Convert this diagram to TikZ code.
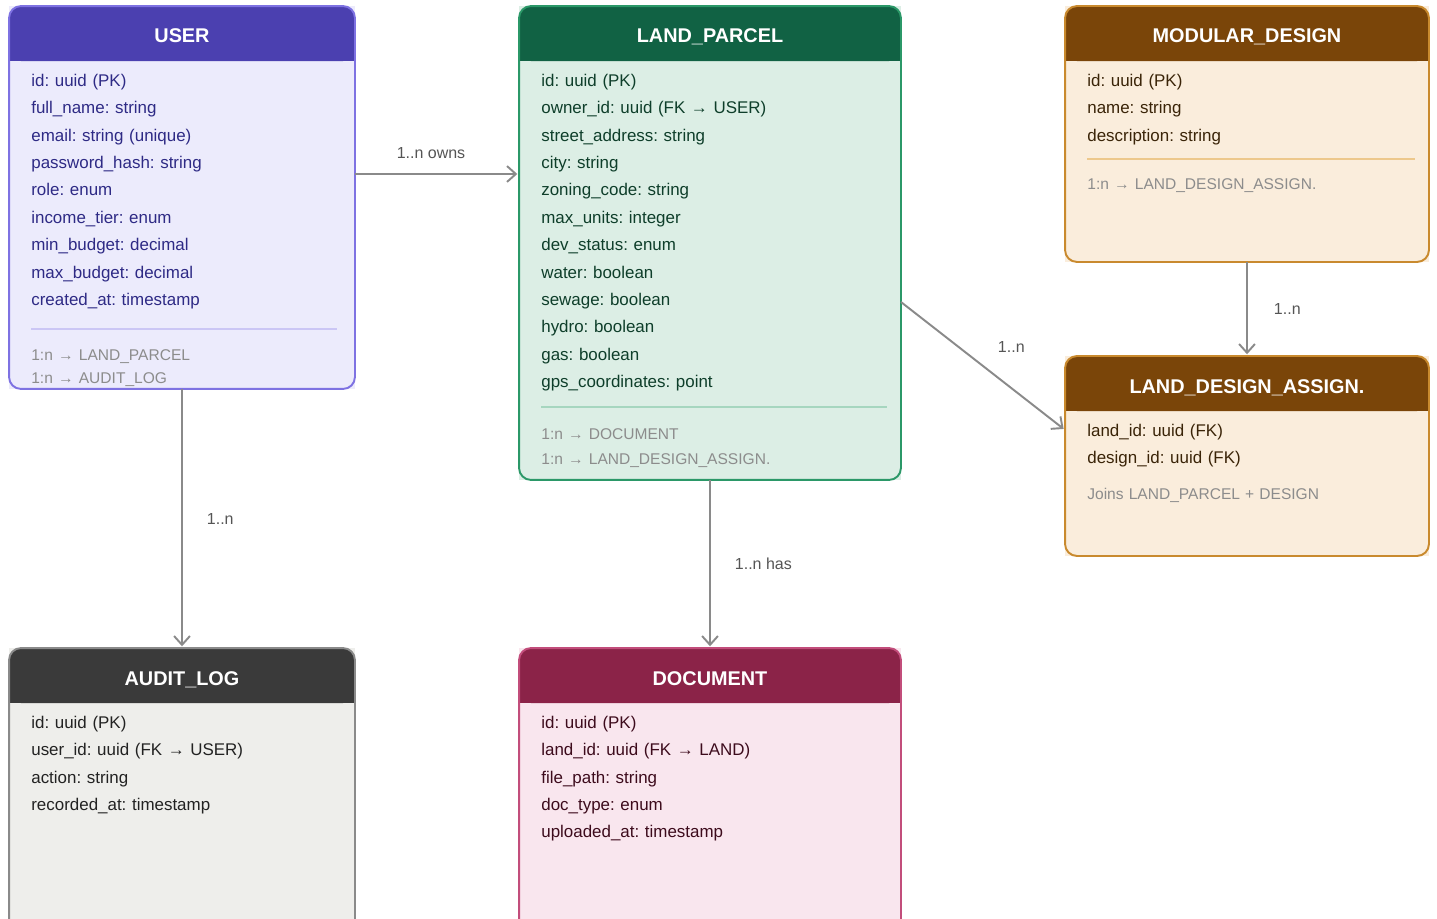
\documentclass[tikz,border=0pt]{standalone}
\usepackage{fontspec}
\setmainfont{Liberation Sans}
\usepackage{xcolor}
\usetikzlibrary{positioning, arrows.meta}
\frenchspacing

\definecolor{userhd}{HTML}{4B40B0}
\definecolor{userbg}{HTML}{ECEBFC}
\definecolor{userbd}{HTML}{7E72E2}
\definecolor{usertx}{HTML}{2E2A85}
\definecolor{usersep}{HTML}{CBC6F5}
\definecolor{landhd}{HTML}{116244}
\definecolor{landbg}{HTML}{DCEEE5}
\definecolor{landbd}{HTML}{2B9868}
\definecolor{landtx}{HTML}{0E3E2A}
\definecolor{landsep}{HTML}{A6D6BF}
\definecolor{modhd}{HTML}{7A4509}
\definecolor{modbg}{HTML}{FAEDDC}
\definecolor{modbd}{HTML}{C98A2E}
\definecolor{modtx}{HTML}{3A2408}
\definecolor{modsep}{HTML}{EDC88C}
\definecolor{audhd}{HTML}{3A3A3A}
\definecolor{audbg}{HTML}{EEEEEB}
\definecolor{audbd}{HTML}{8A8A8A}
\definecolor{audtx}{HTML}{222222}
\definecolor{dochd}{HTML}{8B2348}
\definecolor{docbg}{HTML}{F9E6EE}
\definecolor{docbd}{HTML}{C24D7B}
\definecolor{doctx}{HTML}{3D0B1C}
\definecolor{notegray}{HTML}{8C8C8C}
\definecolor{edgegray}{HTML}{8A8A8A}
\definecolor{lblgray}{HTML}{555555}

\begin{document}
\begin{tikzpicture}[
    x=0.02cm, y=-0.02cm,
    entity/.style={rectangle, inner sep=0pt, outer sep=0pt},
    frame/.style={line width=1.1pt, rounded corners=0.24cm},
    title/.style={text=white, inner sep=0pt, text height=0.28cm, text depth=0pt, font=\fontsize{11.3}{13}\selectfont\bfseries},
    field/.style={node distance=0.214cm, inner sep=0pt, text width=6.4cm, align=left, text height=0.25cm, text depth=0.07cm, font=\fontsize{9.64}{12}\selectfont},
    note/.style={inner sep=0pt, text width=6.4cm, align=left, text height=0.22cm, text depth=0.06cm, text=notegray, font=\fontsize{8.85}{11}\selectfont},
    rel/.style={draw=edgegray, line width=1.1pt, shorten >=1pt, -{Straight Barb[length=5pt, width=9pt]}},
    lbl/.style={text=lblgray, inner sep=0pt, font=\fontsize{9.1}{11}\selectfont}
    ]
\useasboundingbox (0,0) rectangle (1437,919);
\clip (0,0) rectangle (1437,919);
\fill[white] (0,0) rectangle (1437,919);

% USER
\node[entity, fill=userbg, minimum width=6.92cm, minimum height=7.66cm] (user) at (182,197.5) {};
\fill[userhd, rounded corners=0.24cm] (user.north west) rectangle ([yshift=-1.1cm]user.north east);
\fill[userhd] ([yshift=-0.6cm]user.north west) rectangle ([yshift=-1.1cm]user.north east);
\draw[userbd, frame] (user.north west) rectangle (user.south east);
\node[title] (user-t) at (182,36) {USER};
\node[field, text=usertx, anchor=north west] (user-f1) at (31,73.5) {id: uuid (PK)};
\node[field, text=usertx, below=of user-f1] (user-f2) {full\_name: string};
\node[field, text=usertx, below=of user-f2] (user-f3) {email: string (unique)};
\node[field, text=usertx, below=of user-f3] (user-f4) {password\_hash: string};
\node[field, text=usertx, below=of user-f4] (user-f5) {role: enum};
\node[field, text=usertx, below=of user-f5] (user-f6) {income\_tier: enum};
\node[field, text=usertx, below=of user-f6] (user-f7) {min\_budget: decimal};
\node[field, text=usertx, below=of user-f7] (user-f8) {max\_budget: decimal};
\node[field, text=usertx, below=of user-f8] (user-f9) {created\_at: timestamp};
\draw[usersep, line width=1pt] (31,329) -- (337,329);
\node[note, anchor=north west] (user-n1) at (31,349) {1:n → LAND\_PARCEL};
\node[note, below=0.16cm of user-n1] (user-n2) {1:n → AUDIT\_LOG};

% LAND_PARCEL
\node[entity, fill=landbg, minimum width=7.64cm, minimum height=9.48cm] (land) at (710,243) {};
\fill[landhd, rounded corners=0.24cm] (land.north west) rectangle ([yshift=-1.1cm]land.north east);
\fill[landhd] ([yshift=-0.6cm]land.north west) rectangle ([yshift=-1.1cm]land.north east);
\draw[landbd, frame] (land.north west) rectangle (land.south east);
\node[title] (land-t) at (710,36) {LAND\_PARCEL};
\node[field, text=landtx, anchor=north west] (land-f1) at (541,73.5) {id: uuid (PK)};
\node[field, text=landtx, below=of land-f1] (land-f2) {owner\_id: uuid (FK → USER)};
\node[field, text=landtx, below=of land-f2] (land-f3) {street\_address: string};
\node[field, text=landtx, below=of land-f3] (land-f4) {city: string};
\node[field, text=landtx, below=of land-f4] (land-f5) {zoning\_code: string};
\node[field, text=landtx, below=of land-f5] (land-f6) {max\_units: integer};
\node[field, text=landtx, below=of land-f6] (land-f7) {dev\_status: enum};
\node[field, text=landtx, below=of land-f7] (land-f8) {water: boolean};
\node[field, text=landtx, below=of land-f8] (land-f9) {sewage: boolean};
\node[field, text=landtx, below=of land-f9] (land-f10) {hydro: boolean};
\node[field, text=landtx, below=of land-f10] (land-f11) {gas: boolean};
\node[field, text=landtx, below=of land-f11] (land-f12) {gps\_coordinates: point};
\draw[landsep, line width=1pt] (541,407) -- (887,407);
\node[note, anchor=north west] (land-n1) at (541,428) {1:n → DOCUMENT};
\node[note, below=0.2cm of land-n1] (land-n2) {1:n → LAND\_DESIGN\_ASSIGN.};

% MODULAR_DESIGN
\node[entity, fill=modbg, minimum width=7.28cm, minimum height=5.12cm] (mod) at (1247,134) {};
\fill[modhd, rounded corners=0.24cm] (mod.north west) rectangle ([yshift=-1.1cm]mod.north east);
\fill[modhd] ([yshift=-0.6cm]mod.north west) rectangle ([yshift=-1.1cm]mod.north east);
\draw[modbd, frame] (mod.north west) rectangle (mod.south east);
\node[title] (mod-t) at (1247,36) {MODULAR\_DESIGN};
\node[field, text=modtx, anchor=north west] (mod-f1) at (1087,73.5) {id: uuid (PK)};
\node[field, text=modtx, below=of mod-f1] (mod-f2) {name: string};
\node[field, text=modtx, below=of mod-f2] (mod-f3) {description: string};
\draw[modsep, line width=1pt] (1087,159) -- (1415,159);
\node[note, anchor=north west] (mod-n1) at (1087,178) {1:n → LAND\_DESIGN\_ASSIGN.};

% LAND_DESIGN_ASSIGN.
\node[entity, fill=modbg, minimum width=7.28cm, minimum height=4.0cm] (lda) at (1247,456) {};
\fill[modhd, rounded corners=0.24cm] (lda.north west) rectangle ([yshift=-1.1cm]lda.north east);
\fill[modhd] ([yshift=-0.6cm]lda.north west) rectangle ([yshift=-1.1cm]lda.north east);
\draw[modbd, frame] (lda.north west) rectangle (lda.south east);
\node[title] (lda-t) at (1247,386) {LAND\_DESIGN\_ASSIGN.};
\node[field, text=modtx, anchor=north west] (lda-f1) at (1087,423.5) {land\_id: uuid (FK)};
\node[field, text=modtx, below=of lda-f1] (lda-f2) {design\_id: uuid (FK)};
\node[note, anchor=north west] (lda-n1) at (1087,488) {Joins LAND\_PARCEL + DESIGN};

% AUDIT_LOG
\node[entity, fill=audbg, minimum width=6.92cm, minimum height=6.4cm] (audit) at (182,808) {};
\fill[audhd, rounded corners=0.24cm] (audit.north west) rectangle ([yshift=-1.1cm]audit.north east);
\fill[audhd] ([yshift=-0.6cm]audit.north west) rectangle ([yshift=-1.1cm]audit.north east);
\draw[audbd, frame] (audit.north west) rectangle (audit.south east);
\node[title] (audit-t) at (182,678) {AUDIT\_LOG};
\node[field, text=audtx, anchor=north west] (audit-f1) at (31,715.5) {id: uuid (PK)};
\node[field, text=audtx, below=of audit-f1] (audit-f2) {user\_id: uuid (FK → USER)};
\node[field, text=audtx, below=of audit-f2] (audit-f3) {action: string};
\node[field, text=audtx, below=of audit-f3] (audit-f4) {recorded\_at: timestamp};

% DOCUMENT
\node[entity, fill=docbg, minimum width=7.64cm, minimum height=6.4cm] (doc) at (710,808) {};
\fill[dochd, rounded corners=0.24cm] (doc.north west) rectangle ([yshift=-1.1cm]doc.north east);
\fill[dochd] ([yshift=-0.6cm]doc.north west) rectangle ([yshift=-1.1cm]doc.north east);
\draw[docbd, frame] (doc.north west) rectangle (doc.south east);
\node[title] (doc-t) at (710,678) {DOCUMENT};
\node[field, text=doctx, anchor=north west] (doc-f1) at (541,715.5) {id: uuid (PK)};
\node[field, text=doctx, below=of doc-f1] (doc-f2) {land\_id: uuid (FK → LAND)};
\node[field, text=doctx, below=of doc-f2] (doc-f3) {file\_path: string};
\node[field, text=doctx, below=of doc-f3] (doc-f4) {doc\_type: enum};
\node[field, text=doctx, below=of doc-f4] (doc-f5) {uploaded\_at: timestamp};

% relations
\draw[rel] (user.east |- 0,174) -- node[lbl, above=0.28cm, xshift=-0.12cm] (owns-l) {1..n owns} (land.west |- 0,174);
\draw[rel] (user.south) -- node[lbl, right=0.48cm] (log-l) {1..n} (audit.north);
\draw[rel] (land.south) -- node[lbl, right=0.48cm] (has-l) {1..n has} (doc.north);
\draw[rel] (mod.south) -- node[lbl, right=0.52cm] (assign-l) {1..n} (lda.north);
\draw[rel] (land.east |- 0,302) -- node[lbl, above right=0.26cm and 0.28cm] (join-l) {1..n} (lda.west |- 0,430);
\end{tikzpicture}
\end{document}
